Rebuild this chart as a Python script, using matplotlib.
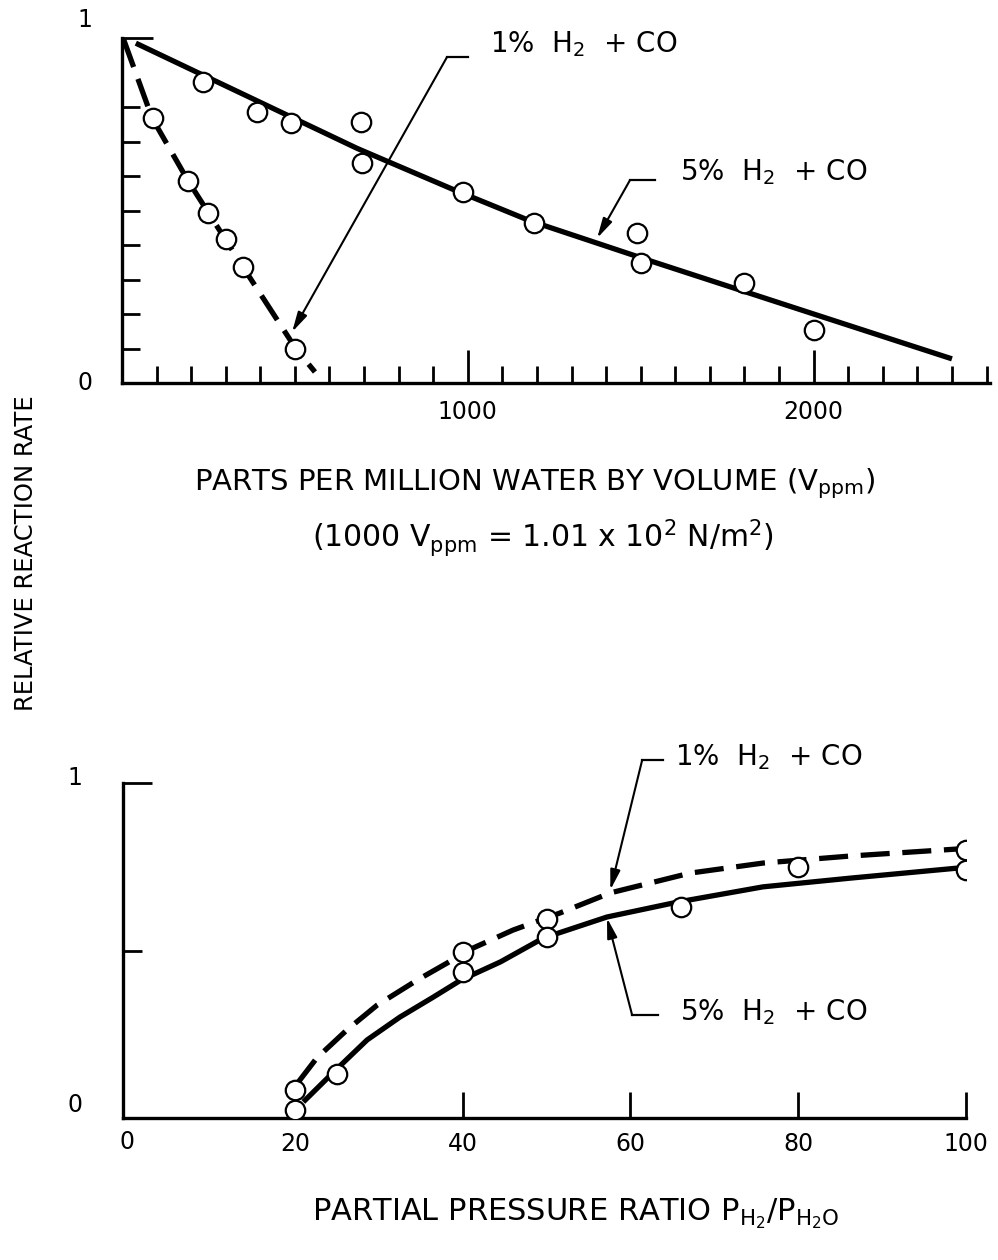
import matplotlib
matplotlib.use('Agg')
import matplotlib.pyplot as plt

plt.rcParams['font.family'] = ['DejaVu Sans']
plt.rcParams['mathtext.fontset'] = 'dejavusans'

# ---- top panel: rate vs ppm water ----
ppm_5 = [235, 390, 490, 690, 695, 985, 1190, 1490, 1500, 1800, 2000]
rate_5 = [0.872, 0.786, 0.754, 0.757, 0.638, 0.554, 0.464, 0.435, 0.348, 0.290, 0.154]
ppm_1 = [90, 190, 250, 300, 350, 500]
rate_1 = [0.768, 0.586, 0.493, 0.417, 0.336, 0.099]

# hand-drawn fit lines
fit5_ppm = [40, 680, 960, 1180, 1540, 2000, 2400]
fit5_rate = [0.985, 0.68, 0.56, 0.47, 0.35, 0.20, 0.07]
fit1_ppm = [5, 87, 191, 350, 503, 558]
fit1_rate = [0.995, 0.768, 0.586, 0.336, 0.099, 0.032]

# ---- bottom panel: rate vs partial pressure ratio ----
ratio_1 = [20, 40, 50, 80, 100]
prate_1 = [0.085, 0.495, 0.595, 0.75, 0.80]
ratio_5 = [20, 25, 40, 50, 66, 100]
prate_5 = [0.025, 0.13, 0.435, 0.54, 0.63, 0.74]

curve1_x = [20.3, 22.6, 26.2, 29.8, 34.6, 38.1, 41.2, 46.0, 51.6, 57.6, 67.1, 75.8, 86.2, 99.0]
curve1_y = [0.104, 0.179, 0.263, 0.337, 0.412, 0.462, 0.507, 0.561, 0.612, 0.672, 0.731, 0.761, 0.782, 0.803]
curve5_x = [21.0, 24.6, 28.6, 32.5, 36.5, 39.8, 44.5, 49.6, 57.2, 65.7, 75.8, 86.2, 99.0]
curve5_y = [0.048, 0.137, 0.233, 0.301, 0.361, 0.412, 0.466, 0.537, 0.600, 0.645, 0.690, 0.716, 0.746]

x2_ticks = [20, 40, 60, 80, 100]

LBL_1 = r'1%  H$_2$  + CO'
LBL_5 = r'5%  H$_2$  + CO'

W, H = 998, 1260
fig = plt.figure(figsize=(W / 100, H / 100), dpi=100)

LW = 3.8
mk = dict(marker='o', ms=14, mfc='white', mec='black', mew=1.6, ls='none', zorder=5)
dash = (5.5, 2.4)


def px_axes(left, top, right, bottom):
    return fig.add_axes([left / W, 1 - bottom / H, (right - left) / W, (bottom - top) / H])


def style(ax):
    ax.spines['top'].set_visible(False)
    ax.spines['right'].set_visible(False)
    for s in ('left', 'bottom'):
        ax.spines[s].set_linewidth(2.4)
        ax.spines[s].set_capstyle('projecting')
    ax.tick_params(which='both', direction='in', width=2.0, labelsize=17)


def leader(ax, corner, hend, tip, text_xy, label):
    ax.plot([corner[0], hend[0]], [corner[1], hend[1]], color='k', lw=1.6, clip_on=False)
    ax.annotate('', xy=tip, xytext=corner,
                arrowprops=dict(arrowstyle='-|>,head_length=1.2,head_width=0.3',
                                color='k', lw=1.5, shrinkA=0, shrinkB=0),
                annotation_clip=False)
    ax.text(text_xy[0], text_xy[1], label, fontsize=20, ha='left', va='baseline')


# top axes
ax1 = px_axes(122, 38, 990, 383)
ax1.set_xlim(0, 2510)
ax1.set_ylim(0, 1)
style(ax1)
ax1.plot(fit5_ppm, fit5_rate, color='k', lw=LW, solid_capstyle='butt')
ax1.plot(fit1_ppm, fit1_rate, color='k', lw=LW, dashes=dash, dash_capstyle='butt')
ax1.plot(ppm_5, rate_5, **mk)
ax1.plot(ppm_1, rate_1, **mk)

ax1.set_xticks([1000, 2000])
ax1.set_xticklabels(['1000', '2000'])
ax1.set_xticks([m for m in range(100, 2600, 100) if m not in (1000, 2000)], minor=True)
ax1.tick_params(axis='x', which='major', length=24, pad=12)
ax1.tick_params(axis='x', which='minor', length=12)
ax1.set_yticks([1.0])
ax1.set_yticklabels([])
ax1.set_yticks([0.1, 0.2, 0.3, 0.4, 0.5, 0.6, 0.7, 0.8], minor=True)
ax1.tick_params(axis='y', which='major', length=22)
ax1.tick_params(axis='y', which='minor', length=13)
ax1.text(-0.043, 0.0, '0', transform=ax1.transAxes, fontsize=17, ha='center', va='center')
ax1.text(-0.043, 1.052, '1', transform=ax1.transAxes, fontsize=17, ha='center', va='center')

leader(ax1, (940, 0.945), (1000, 0.945), (492, 0.148), (1064, 0.959), LBL_1)
leader(ax1, (1469, 0.588), (1541, 0.588), (1374, 0.42), (1614, 0.588), LBL_5)

# bottom axes
ax2 = px_axes(123, 783, 966, 1118)
ax2.set_xlim(-0.5, 100)
ax2.set_ylim(0, 1)
style(ax2)
ax2.plot(curve1_x, curve1_y, color='k', lw=LW, dashes=dash, dash_capstyle='butt')
ax2.plot(curve5_x, curve5_y, color='k', lw=LW, solid_capstyle='butt')
ax2.plot(ratio_1, prate_1, **mk)
ax2.plot(ratio_5, prate_5, **mk)

ax2.set_xticks(x2_ticks)
ax2.tick_params(axis='x', which='major', length=19, pad=10)
ax2.text(0, -0.036, '0', transform=ax2.get_xaxis_transform(), fontsize=17,
         ha='center', va='top')
ax2.set_yticks([1.0])
ax2.set_yticklabels([])
ax2.set_yticks([0.5], minor=True)
ax2.tick_params(axis='y', which='major', length=21)
ax2.tick_params(axis='y', which='minor', length=14)
ax2.text(-0.057, 0.039, '0', transform=ax2.transAxes, fontsize=17, ha='center', va='center')
ax2.text(-0.057, 1.015, '1', transform=ax2.transAxes, fontsize=17, ha='center', va='center')

leader(ax2, (61.4, 1.069), (63.9, 1.069), (57.6, 0.681), (65.3, 1.054), LBL_1)
leader(ax2, (60.2, 0.307), (63.3, 0.307), (57.2, 0.597), (65.9, 0.293), LBL_5)

# axis titles
fig.text(535 / W, 1 - 490 / H, r'PARTS PER MILLION WATER BY VOLUME (V$_{\rm ppm}$)',
         fontsize=21, ha='center', va='baseline')
fig.text(543 / W, 1 - 547 / H, r'(1000 V$_{\rm ppm}$ = 1.01 x 10$^2$ N/m$^2$)',
         fontsize=21.5, ha='center', va='baseline')
fig.text(576 / W, 1 - 1220 / H, r'PARTIAL PRESSURE RATIO P$_{\rm H_2}$/P$_{\rm H_2O}$',
         fontsize=22, ha='center', va='baseline')
fig.text(26 / W, 1 - 553 / H, 'RELATIVE REACTION RATE', fontsize=17.5,
         rotation=90, ha='center', va='center')

fig.savefig('out.png', dpi=100)
